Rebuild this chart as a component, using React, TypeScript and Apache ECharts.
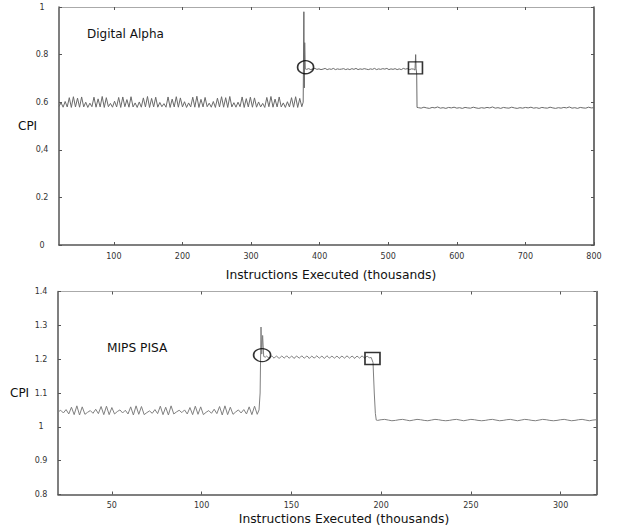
import React, { useEffect, useRef } from "react";
import * as echarts from "echarts";

// ---------- Tick labels ----------
const TOP_X_TICKS = [100, 200, 300, 400, 500, 600, 700, 800];
const TOP_Y_LABELS = ["0", "0.2", "0,4", "0.6", "0.8", "1"];
const BOTTOM_X_TICKS = [50, 100, 150, 200, 250, 300];
const BOTTOM_Y_LABELS = ["0.8", "0.9", "1", "1.1", "1.2", "1.3", "1.4"];

// ---------- Digital Alpha (top) ----------
const alphaWarmupStart = 20;
const alphaWarmupStep = 3;
const alphaWarmup = [
  0.582, 0.598, 0.579, 0.603, 0.580, 0.619, 0.578, 0.623, 0.580, 0.617, 0.579, 0.622,
  0.580, 0.600, 0.578, 0.596, 0.581, 0.621, 0.579, 0.614, 0.580, 0.624, 0.578, 0.619,
  0.581, 0.595, 0.579, 0.604, 0.580, 0.620, 0.578, 0.622, 0.581, 0.611, 0.579, 0.623,
  0.580, 0.597, 0.578, 0.601, 0.579, 0.618, 0.580, 0.624, 0.578, 0.616, 0.580, 0.621,
  0.579, 0.599, 0.581, 0.594, 0.579, 0.622, 0.578, 0.613, 0.580, 0.623, 0.579, 0.618,
  0.580, 0.602, 0.578, 0.597, 0.580, 0.621, 0.579, 0.625, 0.578, 0.612, 0.580, 0.620,
  0.581, 0.596, 0.579, 0.603, 0.578, 0.617, 0.580, 0.623, 0.579, 0.619, 0.578, 0.624,
  0.580, 0.598, 0.579, 0.600, 0.581, 0.622, 0.578, 0.615, 0.580, 0.621, 0.579, 0.618,
  0.579, 0.601, 0.580, 0.595, 0.578, 0.620, 0.581, 0.624, 0.579, 0.613, 0.580, 0.622,
  0.580, 0.597, 0.578, 0.602, 0.580, 0.619, 0.579, 0.623, 0.578, 0.616, 0.581,
];
const alphaSpikeX = [376, 377, 377.6, 378.2, 379];
const alphaSpikeY = [0.6, 0.98, 0.66, 0.85, 0.74];
const alphaPhaseStart = 381;
const alphaPhaseStep = 3;
const alphaPhase = [
  0.738, 0.741, 0.737, 0.740, 0.742, 0.738, 0.740, 0.737, 0.739, 0.742,
  0.737, 0.740, 0.738, 0.742, 0.737, 0.740, 0.738, 0.739, 0.741, 0.737,
  0.740, 0.737, 0.741, 0.738, 0.742, 0.737, 0.740, 0.738, 0.741, 0.739,
  0.737, 0.740, 0.738, 0.742, 0.737, 0.740, 0.738, 0.741, 0.739, 0.742,
  0.737, 0.740, 0.738, 0.741, 0.737, 0.740, 0.737, 0.742, 0.739, 0.741,
  0.737, 0.740,
];
const alphaDropX = [537, 539, 540, 540.6, 541.5, 542];
const alphaDropY = [0.739, 0.735, 0.8, 0.74, 0.72, 0.578];
const alphaTailStart = 544;
const alphaTailStep = 4;
const alphaTail = [
  0.577, 0.575, 0.579, 0.576, 0.574, 0.578, 0.576, 0.580, 0.575, 0.577,
  0.574, 0.578, 0.576, 0.579, 0.575, 0.577, 0.574, 0.578, 0.576, 0.575,
  0.579, 0.576, 0.574, 0.577, 0.575, 0.578, 0.576, 0.580, 0.575, 0.577,
  0.574, 0.578, 0.576, 0.575, 0.579, 0.576, 0.574, 0.577, 0.575, 0.578,
  0.576, 0.579, 0.575, 0.577, 0.574, 0.578, 0.576, 0.575, 0.579, 0.576,
  0.574, 0.577, 0.575, 0.578, 0.576, 0.580, 0.575, 0.577, 0.574, 0.578,
  0.576, 0.575, 0.579, 0.576, 0.577,
];
const alphaCircle = [379.5, 0.747];
const alphaSquare = [539.7, 0.744];

// ---------- MIPS PISA (bottom) ----------
const pisaWarmupStart = 20;
const pisaWarmupStep = 1.5;
const pisaWarmup = [
  1.044, 1.049, 1.041, 1.051, 1.038, 1.058, 1.036, 1.062, 1.035, 1.059, 1.037,
  1.043, 1.048, 1.040, 1.052, 1.039, 1.060, 1.036, 1.061, 1.036, 1.057, 1.038,
  1.045, 1.050, 1.041, 1.049, 1.038, 1.059, 1.035, 1.062, 1.037, 1.060, 1.036,
  1.042, 1.047, 1.040, 1.051, 1.039, 1.061, 1.036, 1.058, 1.035, 1.062, 1.038,
  1.044, 1.049, 1.042, 1.050, 1.038, 1.057, 1.036, 1.061, 1.037, 1.059, 1.036,
  1.043, 1.048, 1.040, 1.052, 1.039, 1.060, 1.035, 1.062, 1.036, 1.058, 1.037,
  1.044, 1.050, 1.041, 1.051, 1.038, 1.059, 1.036, 1.061, 1.037,
];
const pisaSpikeX = [132, 132.6, 133.1, 133.5, 134, 134.6];
const pisaSpikeY = [1.05, 1.1, 1.295, 1.215, 1.27, 1.208];
const pisaPhaseStart = 135.5;
const pisaPhaseStep = 0.7;
const pisaPhase = [
  1.206, 1.209, 1.206, 1.203, 1.206, 1.210, 1.206, 1.203, 1.207, 1.209, 1.206, 1.202,
  1.206, 1.209, 1.207, 1.203, 1.206, 1.210, 1.206, 1.203, 1.206, 1.209, 1.206, 1.202,
  1.207, 1.209, 1.206, 1.203, 1.206, 1.210, 1.206, 1.203, 1.206, 1.209, 1.207, 1.202,
  1.206, 1.209, 1.206, 1.203, 1.207, 1.210, 1.206, 1.203, 1.206, 1.209, 1.206, 1.202,
  1.206, 1.210, 1.207, 1.203, 1.206, 1.209, 1.206, 1.203, 1.206, 1.209, 1.206, 1.202,
  1.207, 1.209, 1.206, 1.203, 1.206, 1.210, 1.206, 1.203, 1.206, 1.209, 1.207, 1.202,
  1.206, 1.209, 1.206, 1.203, 1.206, 1.210, 1.206, 1.203, 1.206, 1.209, 1.206, 1.204,
];
const pisaDropX = [194.5, 195.5, 196.2, 196.8, 197.3];
const pisaDropY = [1.205, 1.19, 1.1, 1.04, 1.02];
const pisaTailStart = 198;
const pisaTailStep = 2;
const pisaTail = [
  1.019, 1.021, 1.022, 1.020, 1.018, 1.019, 1.021, 1.022, 1.020, 1.018,
  1.020, 1.022, 1.021, 1.019, 1.018, 1.020, 1.022, 1.021, 1.019, 1.018,
  1.019, 1.021, 1.022, 1.020, 1.018, 1.020, 1.022, 1.021, 1.019, 1.018,
  1.019, 1.021, 1.022, 1.020, 1.018, 1.019, 1.021, 1.022, 1.020, 1.018,
  1.020, 1.022, 1.021, 1.019, 1.018, 1.020, 1.022, 1.021, 1.019, 1.018,
  1.019, 1.021, 1.022, 1.020, 1.018, 1.019, 1.021, 1.022, 1.020, 1.018,
  1.020, 1.021,
];
const pisaCircle = [133.7, 1.212];
const pisaSquare = [195.2, 1.202];

// ---------- helpers ----------
const seg = (start: number, step: number, vals: number[]) =>
  vals.map((v, i) => [start + i * step, v]);
const pairs = (xs: number[], ys: number[]) => xs.map((x, i) => [x, ys[i]]);

const alphaData = [
  ...seg(alphaWarmupStart, alphaWarmupStep, alphaWarmup),
  ...pairs(alphaSpikeX, alphaSpikeY),
  ...seg(alphaPhaseStart, alphaPhaseStep, alphaPhase),
  ...pairs(alphaDropX, alphaDropY),
  ...seg(alphaTailStart, alphaTailStep, alphaTail),
];
const pisaData = [
  ...seg(pisaWarmupStart, pisaWarmupStep, pisaWarmup),
  ...pairs(pisaSpikeX, pisaSpikeY),
  ...seg(pisaPhaseStart, pisaPhaseStep, pisaPhase),
  ...pairs(pisaDropX, pisaDropY),
  ...seg(pisaTailStart, pisaTailStep, pisaTail),
];

const FONT = "DejaVu Sans";
const tickLabel = { fontFamily: FONT, fontSize: 8, color: "#333" };

function buildAxes(
  gridIndex: number,
  xMin: number,
  xMax: number,
  xTicks: number[],
  yMin: number,
  yMax: number,
  yInterval: number,
  yLabels: string[]
) {
  const innerTicks = xTicks.filter((t) => t < xMax);
  const xAxes = [
    {
      type: "value",
      gridIndex,
      position: "bottom",
      min: xMin,
      max: xMax,
      axisLine: { show: true, lineStyle: { color: "#555", width: 1.5 } },
      axisTick: { show: true, inside: true, length: 3, customValues: xTicks, lineStyle: { color: "#555" } },
      axisLabel: { show: true, customValues: xTicks, margin: 7, ...tickLabel },
      splitLine: { show: false },
    },
    {
      type: "value",
      gridIndex,
      position: "top",
      min: xMin,
      max: xMax,
      axisLine: { show: true, onZero: false, lineStyle: { color: "#aaa", width: 1 } },
      axisTick: { show: true, inside: true, length: 3, customValues: innerTicks, lineStyle: { color: "#555" } },
      axisLabel: { show: false },
      splitLine: { show: false },
    },
  ];
  const yAxes = [
    {
      type: "value",
      gridIndex,
      position: "left",
      min: yMin,
      max: yMax,
      interval: yInterval,
      axisLine: { show: true, onZero: false, lineStyle: { color: "#555", width: 1.5 } },
      axisTick: { show: true, inside: true, length: 3, lineStyle: { color: "#555" } },
      axisLabel: {
        show: true,
        align: "center",
        margin: 17,
        formatter: (v: number) => yLabels[Math.round((v - yMin) / yInterval)] ?? "",
        ...tickLabel,
      },
      splitLine: { show: false },
    },
    {
      type: "value",
      gridIndex,
      position: "right",
      min: yMin,
      max: yMax,
      interval: yInterval,
      axisLine: { show: true, onZero: false, lineStyle: { color: "#444", width: 1.5 } },
      axisTick: { show: true, inside: true, length: 3, lineStyle: { color: "#555" } },
      axisLabel: { show: false },
      splitLine: { show: false },
    },
  ];
  return { xAxes, yAxes };
}

export default function App() {
  const ref = useRef<HTMLDivElement>(null);
  useEffect(() => {
    if (!ref.current) return;
    const chart = echarts.init(ref.current, undefined, { renderer: "svg" });
    const top = buildAxes(0, 20, 800, TOP_X_TICKS, 0, 1, 0.2, TOP_Y_LABELS);
    const bot = buildAxes(1, 20, 320, BOTTOM_X_TICKS, 0.8, 1.4, 0.1, BOTTOM_Y_LABELS);
    const marker = (sym: string, size: number[], pt: number[], xi: number, yi: number) => ({
      type: "scatter",
      xAxisIndex: xi,
      yAxisIndex: yi,
      symbol: sym,
      symbolSize: size,
      data: [pt],
      itemStyle: { color: "rgba(0,0,0,0)", borderColor: "#000", borderWidth: 1.5 },
      z: 5,
    });
    const text = (t: string, x: number, y: number, size: number, align = "left") => ({
      type: "text",
      x,
      y,
      style: {
        text: t,
        fontFamily: FONT,
        fontSize: size,
        fill: "#111",
        align,
        verticalAlign: "middle",
      },
    });
    chart.setOption({
      animation: false,
      backgroundColor: "#fff",
      grid: [
        { left: 59, top: 7, width: 535, height: 238 },
        { left: 58, top: 291.5, width: 538.5, height: 203 },
      ],
      xAxis: [...top.xAxes, ...bot.xAxes],
      yAxis: [...top.yAxes, ...bot.yAxes],
      series: [
        {
          type: "line",
          xAxisIndex: 0,
          yAxisIndex: 0,
          data: alphaData,
          showSymbol: false,
          lineStyle: { color: "#6a6a6a", width: 1 },
        },
        marker("circle", [16, 13], alphaCircle, 0, 0),
        marker("rect", [14, 12], alphaSquare, 0, 0),
        {
          type: "line",
          xAxisIndex: 2,
          yAxisIndex: 2,
          data: pisaData,
          showSymbol: false,
          lineStyle: { color: "#808080", width: 1 },
        },
        marker("circle", [17, 13], pisaCircle, 2, 2),
        marker("rect", [15, 12], pisaSquare, 2, 2),
      ],
      graphic: [
        text("Digital Alpha", 87, 34, 12),
        text("MIPS PISA", 107, 348, 12.2),
        text("CPI", 18, 126, 12),
        text("CPI", 10, 393, 12),
        text("Instructions Executed (thousands)", 331, 275, 12.3, "center"),
        text("Instructions Executed (thousands)", 344, 519, 12.3, "center"),
      ],
    });
    return () => chart.dispose();
  }, []);
  return (
    <div
      ref={ref}
      style={{ position: "absolute", left: 0, top: 0, width: 618, height: 531 }}
    />
  );
}
